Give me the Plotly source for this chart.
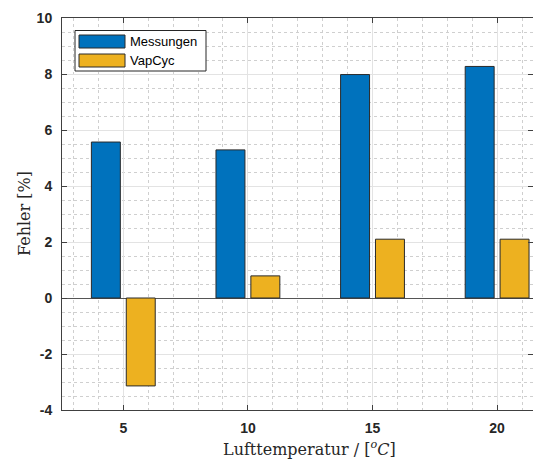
import plotly.graph_objects as go

# Air temperature steps and relative error per source
temperatures = [5, 10, 15, 20]
messungen = [5.57, 5.29, 7.98, 8.27]
vapcyc = [-3.14, 0.79, 2.10, 2.10]
series_names = ["Messungen", "VapCyc"]
series_colors = ["#0072BD", "#EDB120"]

y_tick_vals = [-4, -2, 0, 2, 4, 6, 8, 10]
y_tick_text = ["-4", "-2", "0", "2", "4", "6", "8", "10"]
x_tick_vals = [5, 10, 15, 20]
x_tick_text = ["5", "10", "15", "20"]

W, H = 533, 461
L, R, T, B = 62, 0, 18, 51
PW, PH = W - L - R, H - T - B


def px_x(x):
    return (x - L) / PW


def px_y(y):
    return 1 - (y - T) / PH


fig = go.Figure()
for name, vals, col in zip(series_names, [messungen, vapcyc], series_colors):
    fig.add_trace(go.Bar(
        x=temperatures, y=vals, name=name,
        marker=dict(color=col, line=dict(color="#2a2a2a", width=1)),
        showlegend=False,
    ))

axis_common = dict(
    showline=True, linecolor="#404040", linewidth=1, mirror="ticks",
    ticks="inside", ticklen=5, tickcolor="#404040",
    showgrid=True, gridcolor="#e3e3e3", gridwidth=1,
    tickfont=dict(family="Liberation Sans, Arial", size=14, color="#262626", weight="bold"),
)

fig.update_xaxes(
    range=[2.54, 21.44], tickmode="array", tickvals=x_tick_vals, ticktext=x_tick_text,
    minor=dict(dtick=1, showgrid=True, gridcolor="#cfcfcf", griddash="dot", ticks=""),
    zeroline=False, ticklabelstandoff=5, **axis_common,
)
fig.update_yaxes(
    range=[-4, 10], tickmode="array", tickvals=y_tick_vals, ticktext=y_tick_text,
    minor=dict(dtick=0.5, tick0=0, showgrid=True, gridcolor="#cfcfcf", griddash="dot", ticks=""),
    zeroline=True, zerolinecolor="#555555", zerolinewidth=1, ticklabelstandoff=6,
    **axis_common,
)

# Legend drawn as a box with wide colour swatches
shapes = [dict(type="rect", xref="paper", yref="paper",
               x0=px_x(75), x1=px_x(206), y0=px_y(71), y1=px_y(30.5),
               line=dict(color="#262626", width=1), fillcolor="white", layer="above")]
annotations = []
for i, (name, col) in enumerate(zip(series_names, series_colors)):
    top = 35 + i * 19
    shapes.append(dict(type="rect", xref="paper", yref="paper",
                       x0=px_x(79), x1=px_x(125), y0=px_y(top + 13), y1=px_y(top),
                       line=dict(color="#2a2a2a", width=1), fillcolor=col, layer="above"))
    annotations.append(dict(xref="paper", yref="paper", x=px_x(128), y=px_y(top + 6.5),
                            text=name, showarrow=False, xanchor="left", yanchor="middle",
                            font=dict(family="Liberation Sans, Arial", size=13, color="#000000")))

title_font = dict(family="DejaVu Serif", size=16, color="#262626")
annotations.append(dict(xref="paper", yref="paper", x=px_x(309.5), y=px_y(461),
                        text="Lufttemperatur / [<sup><i>o</i></sup><i>C</i>]",
                        showarrow=False, xanchor="center", yanchor="bottom", font=title_font))
annotations.append(dict(xref="paper", yref="paper", x=px_x(24), y=px_y(214),
                        text="Fehler [%]", textangle=-90,
                        showarrow=False, xanchor="center", yanchor="middle", font=title_font))

fig.update_layout(
    width=W, height=H, margin=dict(l=L, r=R, t=T, b=B),
    paper_bgcolor="white", plot_bgcolor="white",
    barmode="group", bargap=0.44, bargroupgap=0.17,
    shapes=shapes, annotations=annotations, showlegend=False,
)

fig.write_html("out.html")
